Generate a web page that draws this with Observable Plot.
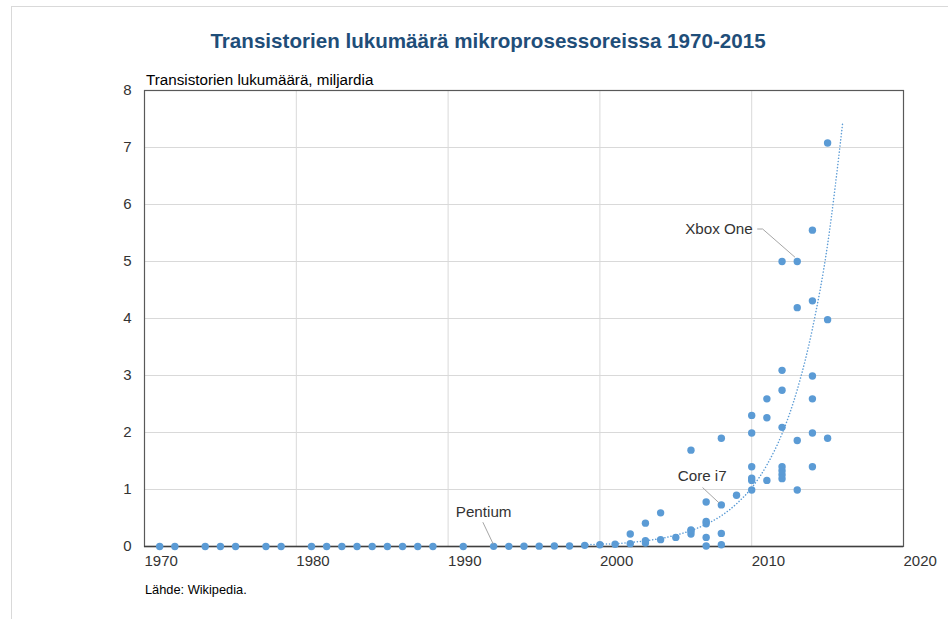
<!DOCTYPE html>
<html>
<head>
<meta charset="utf-8">
<script src="https://cdn.jsdelivr.net/npm/d3@7"></script>
<script src="https://cdn.jsdelivr.net/npm/@observablehq/plot@0.6"></script>
<style>
  html, body { margin: 0; padding: 0; background: #fff; width: 948px; height: 619px; overflow: hidden; }
  body { position: relative; font-family: "Liberation Sans", Arial, sans-serif; }
  #frame { position: absolute; left: 11px; top: 6px; width: 950px; height: 630px; border-top: 1px solid #d9d9d9; border-left: 1px solid #d9d9d9; }
  #title { position: absolute; top: 29px; left: 488px; transform: translateX(-50%); white-space: nowrap; font-size: 20.6px; font-weight: bold; color: #1f4e79; line-height: 24px; }
  #ylabel { position: absolute; top: 71px; left: 146px; font-size: 15.2px; line-height: 17px; color: #000; white-space: nowrap; }
  #chart { position: absolute; top: 60px; left: 0; }
  #caption { position: absolute; top: 582px; left: 145px; font-size: 12.8px; line-height: 15px; color: #000; white-space: nowrap; }
</style>
</head>
<body>
<div id="frame"></div>
<div id="title">Transistorien lukumäärä mikroprosessoreissa 1970-2015</div>
<div id="ylabel">Transistorien lukumäärä, miljardia</div>
<div id="chart"></div>
<div id="caption">Lähde: Wikipedia.</div>
<script>
// Data: year of introduction and transistor count (billions)
const pointYears = [
  1971, 1972, 1974, 1975, 1976, 1978, 1979, 1981, 1982, 1983, 1984, 1985, 1986, 1987, 1988, 1989,
  1991, 1993, 1994, 1995, 1996, 1997, 1998, 1999, 2000, 2001,
  2002, 2002, 2003, 2003, 2003, 2004, 2004, 2005,
  2006, 2006, 2006, 2006,
  2007, 2007, 2007, 2007, 2007,
  2008, 2008, 2008, 2008,
  2009,
  2010, 2010, 2010, 2010, 2010, 2010,
  2011, 2011, 2011,
  2012, 2012, 2012, 2012, 2012, 2012, 2012, 2012,
  2013, 2013, 2013, 2013,
  2014, 2014, 2014, 2014, 2014, 2014,
  2015, 2015, 2015
];
const pointValues = [
  0, 0, 0, 0, 0, 0, 0, 0, 0, 0, 0, 0, 0, 0, 0, 0,
  0, 0.003, 0.003, 0.005, 0.006, 0.008, 0.01, 0.02, 0.03, 0.04,
  0.05, 0.22, 0.06, 0.10, 0.41, 0.12, 0.59, 0.16,
  0.22, 0.27, 0.29, 1.69,
  0.01, 0.16, 0.40, 0.44, 0.78,
  0.03, 0.23, 0.73, 1.90,
  0.90,
  0.99, 1.16, 1.20, 1.40, 1.99, 2.30,
  1.16, 2.26, 2.59,
  1.19, 1.26, 1.33, 1.40, 2.09, 2.74, 3.09, 5.00,
  0.99, 1.86, 4.19, 5.00,
  1.40, 1.99, 2.59, 2.99, 4.31, 5.55,
  1.90, 3.98, 7.08
];

// Dotted trend line
const trendYears = [1999, 2000, 2001, 2002, 2003, 2004, 2005, 2006, 2007, 2008, 2009, 2010, 2011, 2012, 2013, 2014, 2015, 2016];
const trendValues = [0.03, 0.04, 0.05, 0.07, 0.10, 0.14, 0.20, 0.28, 0.39, 0.54, 0.75, 1.03, 1.43, 1.98, 2.75, 3.82, 5.30, 7.45];

// Axis ticks
const xTicks = [1970, 1980, 1990, 2000, 2010, 2020];
const yTicks = [0, 1, 2, 3, 4, 5, 6, 7, 8];

// Annotations
const annLabels = ["Xbox One", "Core i7", "Pentium"];
const annTextYear = [2010.07, 2006.74, 1992.34];
const annTextValue = [5.57, 1.23, 0.60];
const annAnchor = ["end", "middle", "middle"];
const annLeaderYears = [[2010.39, 2010.72, 2012.83], [2006.78, 2007.83], [1992.30, 1992.96]];
const annLeaderValues = [[5.57, 5.57, 5.08], [1.03, 0.77], [0.42, 0.05]];

const points = pointYears.map((y, i) => ({year: y, value: pointValues[i]}));
const trend = trendYears.map((y, i) => ({year: y, value: trendValues[i]}));
const annText = annLabels.map((l, i) => ({label: l, year: annTextYear[i], value: annTextValue[i], anchor: annAnchor[i]}));
const leaders = annLabels.flatMap((l, i) => annLeaderYears[i].map((y, j) => ({label: l, year: y, value: annLeaderValues[i][j]})));

const chart = Plot.plot({
  width: 948,
  height: 520,
  marginLeft: 144,
  marginRight: 45,
  marginTop: 30,
  marginBottom: 34,
  style: {fontFamily: "'Liberation Sans', Arial, sans-serif", fontSize: "15px", color: "#333", background: "transparent", overflow: "visible"},
  x: {domain: [1970, 2020], label: null},
  y: {domain: [0, 8], label: null},
  marks: [
    Plot.gridX(xTicks.slice(1, -1), {stroke: "#d9d9d9", strokeOpacity: 1}),
    Plot.gridY(yTicks.slice(1, -1), {stroke: "#d9d9d9", strokeOpacity: 1}),
    Plot.frame({stroke: "#595959", strokeWidth: 1.2}),
    Plot.ruleY([0], {stroke: "#404040", strokeWidth: 1.6}),
    Plot.axisX(xTicks, {tickSize: 0, tickPadding: 9, textAnchor: "start", tickFormat: d => String(d), fill: "#333", fontSize: 15, label: null}),
    Plot.axisY(yTicks, {tickSize: 0, tickPadding: 13, tickFormat: d => String(d), fill: "#333", fontSize: 15, label: null}),
    Plot.line(trend, {x: "year", y: "value", stroke: "#5b9bd5", strokeWidth: 1.5, strokeDasharray: "0.1,3", strokeLinecap: "round", curve: "monotone-x"}),
    Plot.dot(points, {x: "year", y: "value", r: 3.7, fill: "#5b9bd5", stroke: "none"}),
    Plot.line(leaders, {x: "year", y: "value", z: "label", stroke: "#a6a6a6", strokeWidth: 1}),
    Plot.text(annText.filter(d => d.anchor === "end"), {x: "year", y: "value", text: "label", textAnchor: "end", fill: "#333", fontSize: 15.2}),
    Plot.text(annText.filter(d => d.anchor === "middle"), {x: "year", y: "value", text: "label", textAnchor: "middle", fill: "#333", fontSize: 15.2})
  ]
});
document.getElementById("chart").appendChild(chart);
</script>
</body>
</html>
